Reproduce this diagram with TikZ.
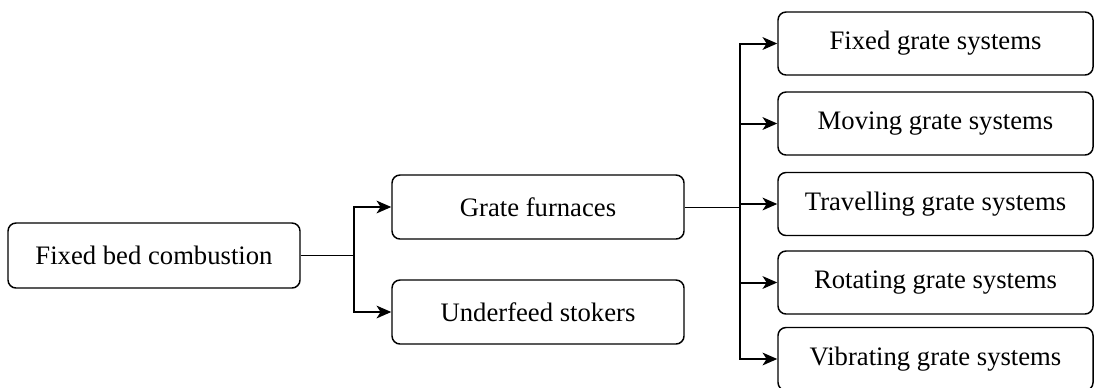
\documentclass[tikz,border=0pt]{standalone}
\usepackage{fontspec}
\setmainfont{Liberation Serif}
\usetikzlibrary{arrows.meta}
\begin{document}
\begin{tikzpicture}[x=0.75pt,y=-0.75pt,
  box/.style={draw, rounded corners=6pt, line width=1.1pt, inner sep=0pt,
    font=\fontsize{20}{24}\selectfont, anchor=center},
  midbox/.style={box, minimum width=219pt, minimum height=48pt},
  rbox/.style={box, minimum width=236.25pt, minimum height=47.25pt},
  link/.style={line width=0.75pt},
  arr/.style={line width=1.5pt, -{Stealth[length=11pt,width=9.5pt,inset=3pt]}}]
\useasboundingbox (0,0) rectangle (1094,387);
\clip (0,0) rectangle (1094,387);

\node[midbox, minimum height=48.75pt] (fbc) at (154,255.5) {Fixed bed combustion};
\node[midbox] (gf) at (538,207) {Grate furnaces};
\node[midbox] (us) at (538,312) {Underfeed stokers};

\node[rbox] (fg) at (935.5,43.5) {Fixed grate systems};
\node[rbox] (mg) at (935.5,123.5) {Moving grate systems};
\node[rbox] (tg) at (935.5,204) {Travelling grate systems};
\node[rbox] (rg) at (935.5,282.5) {Rotating grate systems};
\node[rbox] (vg) at (935.5,359) {Vibrating grate systems};

\coordinate (j1) at (354,255.5);
\coordinate (j2) at (740,207);

\draw[link] (fbc.east) -- (j1);
\draw[arr] (j1) |- (gf.west);
\draw[arr] (j1) |- (us.west);

\draw[link] (gf.east) -- (j2);
\draw[arr] (j2) |- (fg.west);
\draw[arr] (j2) |- (mg.west);
\draw[arr] (j2 |- tg.west) -- (tg.west);
\draw[arr] (j2) |- (rg.west);
\draw[arr] (j2) |- (vg.west);
\end{tikzpicture}
\end{document}
